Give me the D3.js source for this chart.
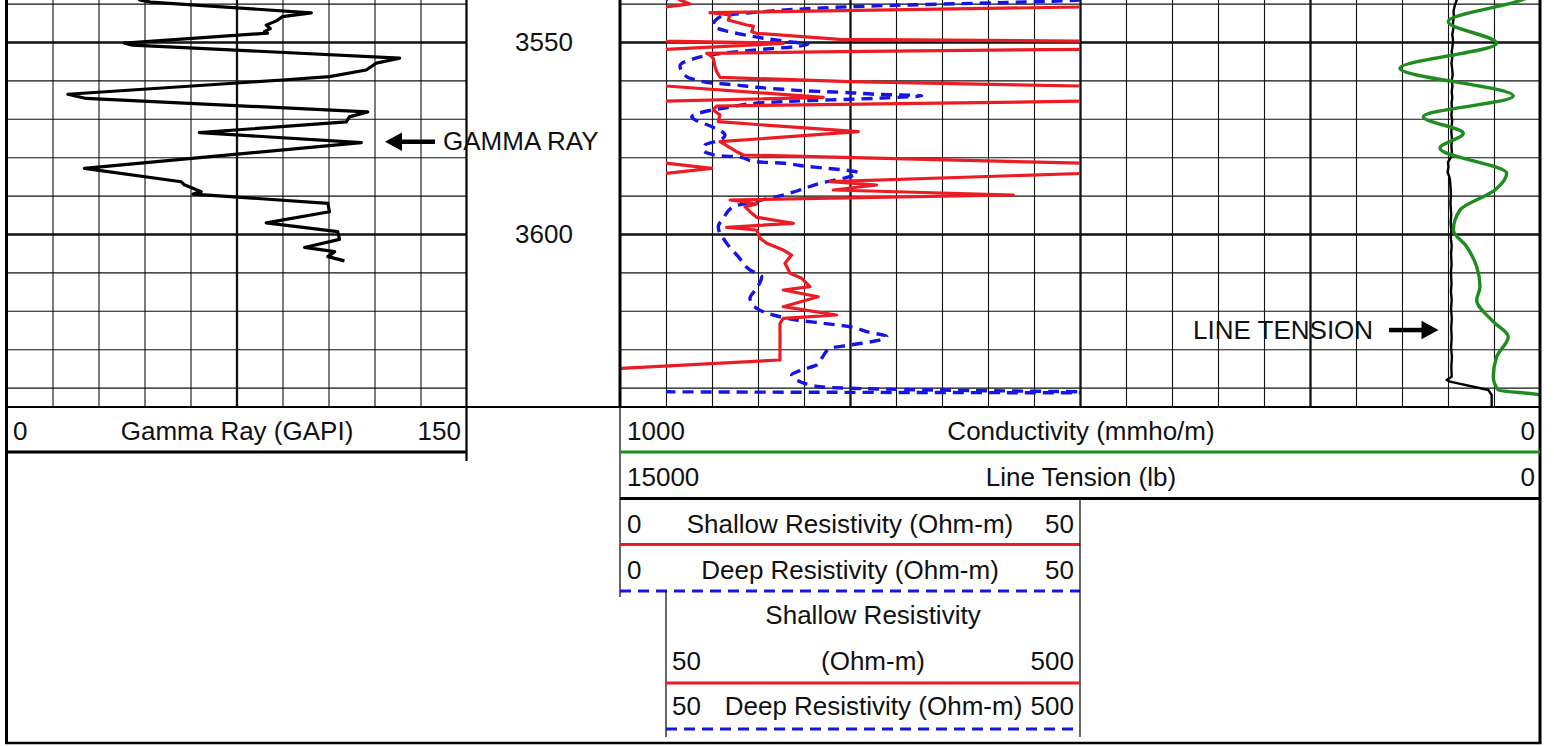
<!DOCTYPE html>
<html><head><meta charset="utf-8">
<script src="https://cdn.jsdelivr.net/npm/d3@7"></script>
<style>
html,body{margin:0;padding:0;background:#fff;}
svg{display:block;font-family:"Liberation Sans",Arial,sans-serif;}
</style></head><body>
<svg id="chart" width="1554" height="746"></svg>
<script>
// ---------------- DATA (depth ft, value) ----------------
const gammaRay = [
  [3538.3,45],[3539.06,43.4],[3539.6,47],[3542.4,99.4],[3543.4,90.0],[3544.5,88.0],[3545.6,84.7],
  [3546.5,86],[3547.3,84.1],[3547.7,85.1],[3550.3,38.5],[3550.8,41.1],[3554.2,128.2],
  [3555.5,120.6],[3557.3,117.3],[3559.0,105.3],[3559.9,90.0],[3563.6,20.0],[3564.7,26.0],
  [3568.2,117.8],[3569.5,111.8],[3570.8,110.8],[3573.6,62.9],[3576.2,115.7],[3582.9,25.4],
  [3586.4,57.0],[3587.2,58.0],[3589.0,63.5],[3589.6,60.8],[3592.0,104.8],[3594.2,105.3],
  [3597.1,84.7],[3599.4,108.0],[3601.4,108.6],[3603.5,97.2],[3604.6,107.0],[3605.9,104.8],[3607.0,110.2]
];
const shallowRes = [
  [3538.5,62],[3539.06,65.2],[3540.10,76.1],[3540.89,50],[3542.37,9.78],[3542.97,11.96],
  [3544.27,11.77],[3545.57,13.77],[3545.83,14.49],[3547.32,14.32],[3547.73,14.86],[3549.30,23.9],
  [3549.79,50],[3550.34,177.5],[3551.90,50],[3552.53,23.9],[3552.94,9.42],[3553.39,9.78],
  [3554.24,10.14],[3556.43,10.33],[3557.73,10.51],[3559.19,10.87],[3560.34,25],[3561.46,50],
  [3564.40,221],[3565.42,50],[3566.67,10.51],[3567.71,10.14],[3569.01,10.87],[3570.76,10.68],
  [3573.36,25.9],[3575.96,10.87],[3578.57,12.68],[3579.43,13.40],[3581.56,50],[3582.89,99.7],
  [3584.24,50],[3586.38,22.83],[3587.24,27.9],[3588.54,23.18],[3589.84,42.75],[3591.15,11.96],
  [3591.59,13.40],[3592.19,14.86],[3592.89,13.59],[3594.19,14.13],[3595.65,14.86],[3597.21,18.84],
  [3598.26,11.60],[3598.96,14.86],[3601.12,15.22],[3602.42,15.95],[3604.17,17.75],[3605.47,18.66],
  [3607.63,17.93],[3610.23,18.48],[3611.54,19.75],[3613.72,20.65],[3614.58,17.75],[3616.33,21.55],
  [3618.93,17.75],[3621.09,23.55],[3621.95,17.75],[3623.26,17.39],[3632.81,17.39],[3634.97,0.1]
];
const deepRes = [
  [3538.5,52],[3539.06,50],[3540.81,25.0],[3542.37,14.13],[3543.23,11.05],[3545.57,10.14],
  [3547.06,11.41],[3547.92,13.04],[3548.96,15.43],[3549.92,18.37],[3550.52,20.43],[3551.22,19.02],
  [3551.90,15.54],[3553.39,9.78],[3554.51,7.83],[3556.17,6.52],[3559.04,7.25],[3559.90,8.34],
  [3560.60,9.78],[3561.20,12.68],[3561.80,14.86],[3562.32,17.75],[3562.68,19.92],[3562.94,22.47],
  [3563.20,25.0],[3563.62,27.9],[3563.98,32.79],[3564.58,28.59],[3564.92,25.0],[3565.23,20.65],
  [3565.81,15.54],[3566.93,11.96],[3568.57,8.51],[3569.45,7.79],[3570.49,8.34],[3572.06,10.0],
  [3574.22,11.41],[3575.52,10.87],[3576.82,9.24],[3578.13,9.05],[3578.98,9.60],[3579.69,11.05],
  [3579.87,12.68],[3581.17,14.86],[3581.59,17.75],[3582.29,19.92],[3582.89,22.47],[3583.52,25.0],
  [3584.04,25.9],[3585.49,24.27],[3586.80,21.74],[3588.54,19.57],[3590.29,17.03],[3591.59,14.49],
  [3592.89,12.32],[3595.91,11.23],[3598.10,10.68],[3602.42,11.60],[3605.91,12.86],[3609.38,14.13],
  [3611.12,15.40],[3614.14,14.86],[3616.74,14.13],[3619.35,14.86],[3621.09,16.66],[3622.40,19.21],
  [3623.26,22.10],[3624.14,25.0],[3625.44,26.82],[3626.74,28.99],[3627.79,27.9],[3628.91,25.0],
  [3629.77,22.83],[3632.37,21.92],[3634.11,21.38],[3635.42,19.75],[3636.72,18.66],[3638.02,19.21],
  [3639.77,21.74],[3641.07,50],[3641.48,600],[3645.8,600]
];
const conductivity = [
  [3537.5,5],[3539.06,19.9],[3544.71,99.7],[3550.34,47.1],[3556.85,152.2],[3564.06,29.0],
  [3569.45,126.8],[3573.78,83.4],[3577.68,108.7],[3584.19,36.2],[3588.54,48.9],[3593.75,87.0],
  [3598.96,94.2],[3603.31,79.7],[3608.52,68.8],[3613.72,65.2],[3617.19,68.8],[3622.84,50.8],
  [3626.74,34.5],[3631.95,47.1],[3637.16,50.8],[3640.63,45.3],[3641.93,0],[3645.8,-10]
];
const lineTension = [
  [3538.5,1350],[3539.06,1358],[3540.5,1390],[3542,1410],[3543.5,1402],[3545,1420],[3546.5,1412],
  [3548,1430],[3549.5,1418],[3551,1425],[3552.5,1440],[3554,1430],[3555.5,1444],[3557,1432],
  [3558.5,1424],[3560,1438],[3561.5,1428],[3563,1440],[3564.5,1430],[3566,1442],[3567.5,1434],
  [3569,1445],[3570.5,1432],[3572,1440],[3573.5,1446],[3575,1436],[3577,1444],[3579.4,1435],
  [3580.5,1470],[3581.3,1500],[3582.5,1492],[3583.9,1508],[3585,1480],[3586,1467],[3588,1458],
  [3590,1452],[3592,1460],[3595,1448],[3597,1456],[3599,1446],[3601,1454],[3603,1440],[3605,1450],
  [3608,1442],[3610,1452],[3613,1443],[3615,1452],[3617,1440],[3619.5,1450],[3622,1438],
  [3624.5,1448],[3627,1440],[3629.5,1450],[3632,1436],[3634.5,1446],[3637.16,1440],[3638.02,1521],
  [3638.46,1467],[3640.63,843],[3641.93,788],[3645.8,788]
];
const depthLabels = [3550, 3600];
const gridDepths = [3540,3550,3560,3570,3580,3590,3600,3610,3620,3630,3640];

// ---------------- LAYOUT ----------------
const svg = d3.select("#chart");
const plotBottom = 407;
const t1 = [6.5, 466.5], t2 = [620, 1080], t23 = [620, 1540];

const y = d3.scaleLinear().domain([3550, 3600]).range([42, 234]);
const xGR = d3.scaleLinear().domain([0, 150]).range(t1);
const xRes = d3.scaleLinear().domain([0, 50]).range(t2);
const xResBk = d3.scaleLinear().domain([0, 500]).range(t2);
const xCond = d3.scaleLinear().domain([1000, 0]).range(t23);
const xTen = d3.scaleLinear().domain([15000, 0]).range(t23);

const RED = "#ec1c24", BLUE = "#1515e6", GREEN = "#1f8c1f", DASH = "11,7";

const defs = svg.append("defs");
function clip(id, x0, x1) {
  defs.append("clipPath").attr("id", id).append("rect")
    .attr("x", x0).attr("y", 0).attr("width", x1 - x0).attr("height", plotBottom);
}
clip("c1", t1[0], t1[1]); clip("c2", t2[0], t2[1]); clip("c2b", xResBk(50), t2[1]); clip("c23", t23[0], t23[1]);

// ---------------- GRID ----------------
function hGrid(x0, x1) {
  const g = svg.append("g").attr("transform", `translate(${x0},0)`)
    .call(d3.axisLeft(y).tickValues(gridDepths).tickSize(-(x1 - x0)).tickFormat(""));
  g.select(".domain").remove();
  g.selectAll("line").attr("stroke", "#111")
    .attr("stroke-width", d => d % 50 === 0 ? 2.3 : 1.1);
}
function vGrid(scale, values, heavy) {
  const g = svg.append("g")
    .call(d3.axisTop(scale).tickValues(values).tickSize(-plotBottom).tickFormat(""));
  g.select(".domain").remove();
  g.selectAll("line").attr("stroke", "#111")
    .attr("stroke-width", (d, i) => heavy(d, i));
}
hGrid(t1[0], t1[1]);
hGrid(t23[0], t23[1]);
vGrid(xGR, d3.range(15, 150, 15), d => d === 75 ? 2.3 : 1.1);
vGrid(xCond, d3.range(50, 1000, 50), d => (d % 250 === 0) ? 2.3 : 1.1);

// ---------------- CURVES ----------------
const lineOf = (xs, curve) => d3.line().x(d => xs(d[1])).y(d => y(d[0])).curve(curve || d3.curveLinear);

svg.append("path").datum(gammaRay).attr("clip-path", "url(#c1)")
  .attr("d", lineOf(xGR)).attr("fill", "none").attr("stroke", "#000").attr("stroke-width", 3.2)
  .attr("stroke-linejoin", "round");

svg.append("path").datum(lineTension).attr("clip-path", "url(#c23)")
  .attr("d", lineOf(xTen)).attr("fill", "none").attr("stroke", "#000").attr("stroke-width", 2.4)
  .attr("stroke-linejoin", "round");

svg.append("path").datum(conductivity).attr("clip-path", "url(#c23)")
  .attr("d", lineOf(xCond, d3.curveMonotoneY)).attr("fill", "none").attr("stroke", GREEN).attr("stroke-width", 3.4);

// deep resistivity (dashed blue), primary + backup
svg.append("path").datum(deepRes).attr("clip-path", "url(#c2)")
  .attr("d", lineOf(xRes, d3.curveMonotoneY)).attr("fill", "none").attr("stroke", BLUE)
  .attr("stroke-width", 3.4).attr("stroke-dasharray", DASH);
svg.append("path").datum(deepRes).attr("clip-path", "url(#c2b)")
  .attr("d", lineOf(xResBk, d3.curveMonotoneY)).attr("fill", "none").attr("stroke", BLUE)
  .attr("stroke-width", 3.4).attr("stroke-dasharray", DASH);

// shallow resistivity (solid red), primary + backup
svg.append("path").datum(shallowRes).attr("clip-path", "url(#c2)")
  .attr("d", lineOf(xRes)).attr("fill", "none").attr("stroke", RED).attr("stroke-width", 3.2)
  .attr("stroke-linejoin", "round");
svg.append("path").datum(shallowRes).attr("clip-path", "url(#c2b)")
  .attr("d", lineOf(xResBk)).attr("fill", "none").attr("stroke", RED).attr("stroke-width", 3.2)
  .attr("stroke-linejoin", "round");

// ---------------- BORDERS ----------------
function L(x1, y1, x2, y2, w, c, dash) {
  const l = svg.append("line").attr("x1", x1).attr("y1", y1).attr("x2", x2).attr("y2", y2)
    .attr("stroke", c || "#000").attr("stroke-width", w);
  if (dash) l.attr("stroke-dasharray", dash);
  return l;
}
L(t1[0], 0, t1[0], 743, 3);            // outer left
L(t23[1], 0, t23[1], 743, 3);          // outer right
L(t1[0] - 1.5, 743, t23[1] + 1.5, 743, 2.5); // outer bottom
L(t1[1], 0, t1[1], 461, 2.2);          // track 1 right
L(t23[0], 0, t23[0], plotBottom, 3);   // track 2 left
L(t23[0], plotBottom, t23[0], 597, 1.2);
L(t1[0], plotBottom, t23[1], plotBottom, 2);

// header lines
L(t1[0], 452, t1[1], 452, 3.2);
L(t23[0], 452, t23[1], 452, 3.2, GREEN);
L(t23[0], 498.5, t23[1], 498.5, 3.2);
L(t2[0], 544.5, t2[1], 544.5, 3.2, RED);
L(t2[0], 591, t2[1], 591, 3.2, BLUE, DASH);
L(t2[1], 498.5, t2[1], 737, 1.2);
L(xResBk(50), 591, xResBk(50), 737, 1.2);
L(xResBk(50), 683, t2[1], 683, 3.2, RED);
L(xResBk(50), 729, t2[1], 729, 3.2, BLUE, DASH);

// ---------------- TEXT ----------------
function T(x, yy, s, anchor) {
  return svg.append("text").attr("x", x).attr("y", yy).attr("text-anchor", anchor || "start")
    .attr("font-size", 26).attr("fill", "#111").text(s);
}
T(13, 439.5, "0"); T(237, 439.5, "Gamma Ray (GAPI)", "middle"); T(461, 439.5, "150", "end");
T(627, 439.5, "1000"); T(1081, 439.5, "Conductivity (mmho/m)", "middle"); T(1535, 439.5, "0", "end");
T(627, 486, "15000"); T(1081, 486, "Line Tension (lb)", "middle"); T(1535, 486, "0", "end");
T(627, 532.5, "0"); T(850, 532.5, "Shallow Resistivity (Ohm-m)", "middle"); T(1074, 532.5, "50", "end");
T(627, 578.5, "0"); T(850, 578.5, "Deep Resistivity (Ohm-m)", "middle"); T(1074, 578.5, "50", "end");
T(873, 624, "Shallow Resistivity", "middle");
T(672, 670, "50"); T(873, 670, "(Ohm-m)", "middle"); T(1074, 670, "500", "end");
T(672, 715, "50"); T(873.5, 715, "Deep Resistivity (Ohm-m)", "middle"); T(1074, 715, "500", "end");

// depth labels via axis
const da = svg.append("g").attr("transform", "translate(544,0)")
  .call(d3.axisRight(y).tickValues(depthLabels).tickSize(0).tickFormat(d3.format("d")));
da.select(".domain").remove();
da.selectAll("text").attr("x", 0).attr("dy", "0.34em").attr("text-anchor", "middle")
  .attr("font-size", 26).attr("font-family", "'Liberation Sans',Arial,sans-serif").attr("fill", "#111");

// annotations
T(443, 150, "GAMMA RAY");
svg.append("rect").attr("x", 399).attr("y", 139.5).attr("width", 36).attr("height", 4.5).attr("fill", "#000");
svg.append("path").attr("d", "M385,141.7 L402,132.5 L402,151 Z").attr("fill", "#000");
T(1193, 338.5, "LINE TENSION");
svg.append("rect").attr("x", 1389).attr("y", 327.8).attr("width", 36).attr("height", 4.5).attr("fill", "#000");
svg.append("path").attr("d", "M1438.5,330 L1421.5,320.8 L1421.5,339.2 Z").attr("fill", "#000");
</script>
</body></html>
